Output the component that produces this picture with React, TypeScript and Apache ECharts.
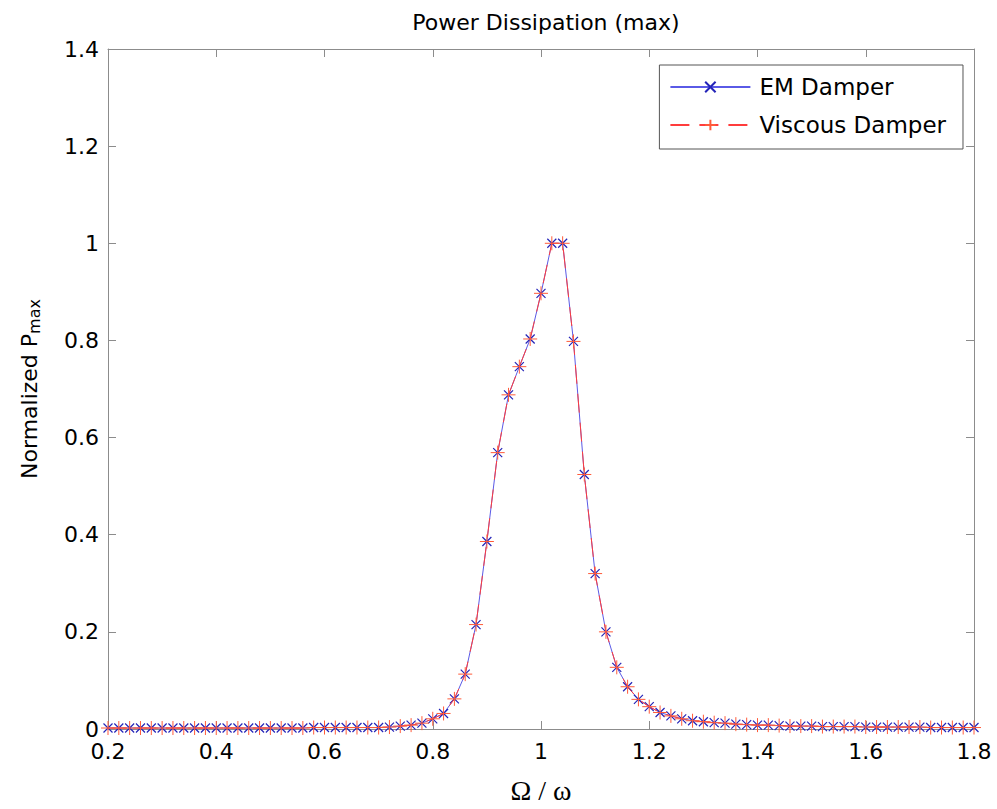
import React, { useEffect, useRef } from "react";
import * as echarts from "echarts";

const xValues = [
  0.2, 0.22, 0.24, 0.26, 0.28, 0.3, 0.32, 0.34, 0.36, 0.38, 0.4, 0.42, 0.44, 0.46, 0.48, 0.5,
  0.52, 0.54, 0.56, 0.58, 0.6, 0.62, 0.64, 0.66, 0.68, 0.7, 0.72, 0.74, 0.76, 0.78, 0.8, 0.82,
  0.84, 0.86, 0.88, 0.9, 0.92, 0.94, 0.96, 0.98, 1.0, 1.02, 1.04, 1.06, 1.08, 1.1, 1.12, 1.14,
  1.16, 1.18, 1.2, 1.22, 1.24, 1.26, 1.28, 1.3, 1.32, 1.34, 1.36, 1.38, 1.4, 1.42, 1.44, 1.46,
  1.48, 1.5, 1.52, 1.54, 1.56, 1.58, 1.6, 1.62, 1.64, 1.66, 1.68, 1.7, 1.72, 1.74, 1.76, 1.78, 1.8,
];

const emDamper = [
  0.002, 0.002, 0.002, 0.002, 0.002, 0.002, 0.002, 0.002, 0.002, 0.002, 0.002, 0.002, 0.002,
  0.002, 0.002, 0.002, 0.002, 0.002, 0.002, 0.003, 0.003, 0.003, 0.003, 0.003, 0.003, 0.003,
  0.004, 0.006, 0.008, 0.012, 0.021, 0.032, 0.062, 0.113, 0.215, 0.386, 0.569, 0.688, 0.746,
  0.803, 0.897, 1.0, 1.0, 0.798, 0.524, 0.32, 0.2, 0.127, 0.087, 0.061, 0.046, 0.034, 0.027,
  0.021, 0.017, 0.015, 0.013, 0.012, 0.01, 0.009, 0.008, 0.008, 0.007, 0.006, 0.006, 0.006,
  0.005, 0.005, 0.005, 0.005, 0.004, 0.004, 0.004, 0.004, 0.004, 0.004, 0.003, 0.003, 0.003,
  0.003, 0.003,
];

const viscousDamper = [
  0.002, 0.002, 0.002, 0.002, 0.002, 0.002, 0.002, 0.002, 0.002, 0.002, 0.002, 0.002, 0.002,
  0.002, 0.002, 0.002, 0.002, 0.002, 0.002, 0.003, 0.003, 0.003, 0.003, 0.003, 0.003, 0.003,
  0.004, 0.006, 0.008, 0.012, 0.021, 0.032, 0.062, 0.113, 0.215, 0.386, 0.569, 0.688, 0.746,
  0.803, 0.897, 1.0, 1.0, 0.798, 0.524, 0.32, 0.2, 0.127, 0.087, 0.061, 0.046, 0.034, 0.027,
  0.021, 0.017, 0.015, 0.013, 0.012, 0.01, 0.009, 0.008, 0.008, 0.007, 0.006, 0.006, 0.006,
  0.005, 0.005, 0.005, 0.005, 0.004, 0.004, 0.004, 0.004, 0.004, 0.004, 0.003, 0.003, 0.003,
  0.003, 0.003,
];

const seriesNames = ["EM Damper", "Viscous Damper"];
const titleText = "Power Dissipation (max)";
const xAxisName = "\u03A9 / \u03C9";
const yAxisMain = "Normalized P";
const yAxisSub = "max";

const SANS = "DejaVu Sans";
const AXIS_GRAY = "#8c8c8c";

const fmt = (v: number) => String(parseFloat(v.toFixed(1)));

export default function App() {
  const ref = useRef<HTMLDivElement>(null);
  useEffect(() => {
    if (!ref.current) return;
    const chart = echarts.init(ref.current, null, { renderer: "svg" });
    const emData = xValues.map((x, i) => [x, emDamper[i]]);
    const viscData = xValues.map((x, i) => [x, viscousDamper[i]]);
    const axisCommon = {
      type: "value" as const,
      axisLine: { show: true, onZero: false, lineStyle: { color: AXIS_GRAY, width: 1 } },
      axisTick: { show: true, inside: true, length: 8, lineStyle: { color: AXIS_GRAY, width: 1 } },
      splitLine: { show: false },
    };
    chart.setOption({
      animation: false,
      backgroundColor: "#ffffff",
      title: {
        text: titleText,
        left: 541,
        top: 6,
        textAlign: "center",
        textStyle: { fontFamily: SANS, fontSize: 22, fontWeight: "normal", color: "#000" },
      },
      grid: { left: 108, right: 23, top: 49, bottom: 75, containLabel: false },
      legend: {
        data: seriesNames,
        orient: "vertical",
        right: 34,
        top: 65,
        backgroundColor: "#ffffff",
        borderColor: "#555555",
        borderWidth: 1,
        borderRadius: 0,
        padding: [10, 17, 12, 10],
        itemGap: 14,
        itemWidth: 80,
        itemHeight: 13,
        textStyle: {
          fontFamily: SANS,
          fontSize: 23,
          color: "#000",
          lineHeight: 24,
          padding: [0, 0, 0, 4],
        },
      },
      xAxis: [
        {
          ...axisCommon,
          position: "bottom",
          min: 0.2,
          max: 1.8,
          interval: 0.2,
          name: xAxisName,
          nameLocation: "middle",
          nameGap: 47,
          nameTextStyle: { fontFamily: "Liberation Serif", fontSize: 28, color: "#000" },
          axisLabel: { show: true, margin: 11, fontFamily: SANS, fontSize: 22, color: "#000", formatter: fmt },
        },
        {
          ...axisCommon,
          position: "top",
          min: 0.2,
          max: 1.8,
          interval: 0.2,
          axisLabel: { show: false },
        },
      ],
      yAxis: [
        {
          ...axisCommon,
          position: "left",
          min: 0,
          max: 1.4,
          interval: 0.2,
          name: `{a|${yAxisMain}}{b|${yAxisSub}}`,
          nameLocation: "middle",
          nameRotate: 90,
          nameGap: 66,
          nameTextStyle: {
            color: "#000",
            rich: {
              a: { fontFamily: SANS, fontSize: 22, lineHeight: 24, verticalAlign: "top", color: "#000" },
              b: {
                fontFamily: SANS,
                fontSize: 16,
                lineHeight: 16,
                verticalAlign: "bottom",
                padding: [14, 0, 0, 0],
                color: "#000",
              },
            },
          },
          axisLabel: { show: true, margin: 9, fontFamily: SANS, fontSize: 22, color: "#000", formatter: fmt },
        },
        {
          ...axisCommon,
          position: "right",
          min: 0,
          max: 1.4,
          interval: 0.2,
          axisLabel: { show: false },
        },
      ],
      series: [
        {
          name: seriesNames[0],
          type: "line",
          xAxisIndex: 0,
          yAxisIndex: 0,
          data: emData,
          symbol: "path://M0,0L10,10M10,0L0,10",
          symbolSize: 9,
          showSymbol: true,
          lineStyle: { color: "#5a5ae6", width: 1, type: "solid" },
          itemStyle: { color: "#2424b8", borderColor: "#2424b8", borderWidth: 1.2 },
          z: 2,
        },
        {
          name: seriesNames[1],
          type: "line",
          xAxisIndex: 0,
          yAxisIndex: 0,
          data: viscData,
          symbol: "path://M5,0L5,10M0,5L10,5",
          symbolSize: 14,
          showSymbol: true,
          lineStyle: { color: "#ff3c3c", width: 1, type: [19, 10] },
          itemStyle: { color: "#ff5a3a", borderColor: "#ff5a3a", borderWidth: 1 },
          z: 3,
        },
      ],
    });
    return () => chart.dispose();
  }, []);
  return (
    <div
      ref={ref}
      style={{ position: "fixed", left: 0, top: 0, width: 997, height: 809, background: "#fff" }}
    />
  );
}
